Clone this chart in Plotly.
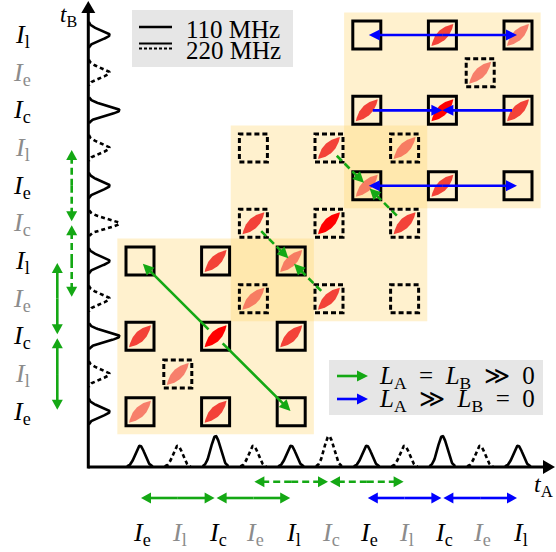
import numpy as np
import plotly.graph_objects as go

# ---- pulse time bins (identical sequence on both the t_A and t_B axes) ----
SLOT_LABELS = ["e", "l", "c", "e", "l", "c", "e", "l", "c", "e", "l"]
SLOT_RATE_MHZ = [110, 220, 110, 220, 110, 220, 110, 220, 110, 220, 110]
PEAK_HEIGHT = [0.56, 0.56, 0.82, 0.56, 0.56, 0.82, 0.56, 0.56, 0.82, 0.56, 0.56]

# ---- coincidence cells: slot on t_A, slot on t_B, correlation level (0 = none) ----
CELL_A = [0, 2, 4, 0, 2, 4, 0, 2, 4, 1, 3, 5, 7, 3, 5, 7, 3, 5, 7,
          6, 8, 10, 6, 8, 10, 6, 8, 10, 9]
CELL_B = [0, 0, 0, 2, 2, 2, 4, 4, 4, 1, 3, 3, 3, 5, 5, 5, 7, 7, 7,
          6, 6, 6, 8, 8, 8, 10, 10, 10, 9]
CELL_LEVEL = [1, 2, 0, 2, 3, 2, 0, 2, 1, 1, 1, 2, 0, 2, 3, 2, 0, 2, 1,
              1, 2, 0, 2, 3, 2, 0, 2, 1, 1]

# shaded blocks: first / last slot covered on both axes
BLOCK_LO = [0, 3, 6]
BLOCK_HI = [4, 7, 10]

# arrows inside the grid: (from A, from B, to A, to B, start gap px, tip gap px)
GREEN_SOLID = [(2, 2, 0, 4, 10, 4), (2, 2, 4, 0, 10, 1)]
GREEN_DASHED = [(5, 7, 6, 6, 11, 4), (7, 5, 6, 6, 11, 4),
                (3, 5, 4, 4, 11, 4), (5, 3, 4, 4, 11, 4)]
BLUE = [(8, 10, 6, 10, 0, 2), (8, 10, 10, 10, 0, 1),
        (6, 8, 8, 8, 6, 0), (10, 8, 8, 8, 6, 0),
        (8, 6, 6, 6, 0, 2), (8, 6, 10, 6, 0, 1)]

# double arrows beside the axes: (slot from, slot to)
AXIS_SOLID_GREEN = [(0, 2), (2, 4)]
AXIS_DASHED_GREEN = [(3, 5), (5, 7)]
AXIS_BLUE = [(6, 8), (8, 10)]

# ---- geometry (pixels) ----
W, H = 556, 552
X0PX, Y0PX = 140.0, 411.7      # pixel position of slot 0
SX, SY = 37.8, 37.67           # pixels per slot
ORIGIN_PX = (88.3, 467.0)

GREEN = "#14a814"
BLUE_C = "#0000ff"
GRAY_TXT = "#8c8c8c"
LEVEL_COLOR = {1: "rgba(244,78,66,0.70)", 2: "rgb(243,66,56)", 3: "rgb(255,0,0)"}
FONT = "Liberation Serif"


def d2p(x, y):
    return X0PX + SX * x, Y0PX - SY * y


def p2d(px, py):
    return (px - X0PX) / SX, (Y0PX - py) / SY


shapes = []
annotations = []
traces = []


def line_px(p0, p1, color, width, dash=None, layer="above"):
    a = p2d(*p0)
    b = p2d(*p1)
    ln = dict(color=color, width=width)
    if dash:
        ln["dash"] = dash
    shapes.append(dict(type="line", xref="x", yref="y", x0=a[0], y0=a[1],
                       x1=b[0], y1=b[1], line=ln, layer=layer))


def poly_px(pts, color, layer="above"):
    d = [p2d(*p) for p in pts]
    path = "M " + " L ".join(f"{x:.5f},{y:.5f}" for x, y in d) + " Z"
    shapes.append(dict(type="path", xref="x", yref="y", path=path,
                       fillcolor=color, line=dict(width=0), layer=layer))


def arrow_px(p0, p1, color, width=2.6, dash=None, head_len=11.0, head_w=11.0):
    p0 = np.array(p0, float)
    p1 = np.array(p1, float)
    d = p1 - p0
    d /= np.hypot(*d)
    n = np.array([-d[1], d[0]])
    base = p1 - d * head_len
    line_px(tuple(p0), tuple(base + d * 1.0), color, width, dash)
    poly_px([tuple(p1), tuple(base + n * head_w / 2), tuple(base - n * head_w / 2)], color)


def grid_arrow(a0, b0, a1, b1, gap0, gap1, color, dash=None):
    p0 = np.array(d2p(a0, b0))
    p1 = np.array(d2p(a1, b1))
    d = (p1 - p0) / np.hypot(*(p1 - p0))
    arrow_px(p0 + d * gap0, p1 - d * gap1, color, dash=dash)


# ---- shaded blocks ----
PAD = 0.6
for lo, hi in zip(BLOCK_LO, BLOCK_HI):
    shapes.append(dict(type="rect", xref="x", yref="y", x0=lo - PAD, x1=hi + PAD,
                       y0=lo - PAD, y1=hi + PAD, fillcolor="rgba(255,216,118,0.36)",
                       line=dict(width=0), layer="below"))

# ---- detection cells ----
HALF = 14.0  # px
for a, b in zip(CELL_A, CELL_B):
    cx, cy = d2p(a, b)
    x0, y0 = p2d(cx - HALF, cy + HALF)
    x1, y1 = p2d(cx + HALF, cy - HALF)
    solid = SLOT_RATE_MHZ[a] == 110 and SLOT_RATE_MHZ[b] == 110
    shapes.append(dict(type="rect", xref="x", yref="y", x0=x0, x1=x1, y0=y0, y1=y1,
                       line=dict(color="black", width=3,
                                 dash=None if solid else "5px,3px"),
                       fillcolor="rgba(0,0,0,0)", layer="below"))

# ---- correlation lenses ----
L_PX, W_PX = 31.0, 10.5
t = np.linspace(-1, 1, 41)
u = np.concatenate([t, t[::-1]]) * L_PX / 2
v = np.concatenate([(1 - t ** 2), -(1 - t[::-1] ** 2)]) * W_PX / 2
ux, uy = np.cos(np.pi / 4), -np.sin(np.pi / 4)   # pixel y points down
for a, b, lev in zip(CELL_A, CELL_B, CELL_LEVEL):
    if lev == 0:
        continue
    cx, cy = d2p(a, b)
    px = cx + u * ux - v * uy
    py = cy + u * uy + v * ux
    xs, ys = p2d(px, py)
    traces.append(go.Scatter(x=xs, y=ys, mode="lines", fill="toself",
                             fillcolor=LEVEL_COLOR[lev], line=dict(width=0),
                             hoverinfo="skip", showlegend=False))

# ---- pulses along the axes ----
SIG = 4.8
for i, (rate, h) in enumerate(zip(SLOT_RATE_MHZ, PEAK_HEIGHT)):
    dash = None if rate == 110 else "4px,3px"
    s = np.linspace(-13, 13, 61)
    g = np.exp(-s ** 2 / (2 * SIG ** 2))
    # t_A axis
    cx, _ = d2p(i, 0)
    hx = h * SY
    xs, ys = p2d(cx + s, ORIGIN_PX[1] - hx * g)
    traces.append(go.Scatter(x=xs, y=ys, mode="lines",
                             line=dict(color="black", width=2.6, dash=dash),
                             hoverinfo="skip", showlegend=False))
    # t_B axis
    _, cy = d2p(0, i)
    hy = h * SX
    xs, ys = p2d(ORIGIN_PX[0] + hy * g, cy + s)
    traces.append(go.Scatter(x=xs, y=ys, mode="lines",
                             line=dict(color="black", width=2.6, dash=dash),
                             hoverinfo="skip", showlegend=False))

# ---- axes ----
arrow_px(ORIGIN_PX, (555, ORIGIN_PX[1]), "black", width=3, head_len=12, head_w=14)
arrow_px((ORIGIN_PX[0], ORIGIN_PX[1] + 1.5), (ORIGIN_PX[0], 1), "black", width=3,
         head_len=12, head_w=14)

# ---- arrows inside the grid ----
for a0, b0, a1, b1, g0, g1 in GREEN_SOLID:
    grid_arrow(a0, b0, a1, b1, g0, g1, GREEN)
for a0, b0, a1, b1, g0, g1 in GREEN_DASHED:
    grid_arrow(a0, b0, a1, b1, g0, g1, GREEN, dash="7px,4px")
for a0, b0, a1, b1, g0, g1 in BLUE:
    grid_arrow(a0, b0, a1, b1, g0, g1, BLUE_C)


def double_arrow_px(p0, p1, color, dash=None):
    p0 = np.array(p0, float)
    p1 = np.array(p1, float)
    mid = (p0 + p1) / 2
    arrow_px(mid, p1, color, dash=dash, head_len=10, head_w=11)
    arrow_px(mid, p0, color, dash=dash, head_len=10, head_w=11)


# beside the t_B axis
for s0, s1 in AXIS_SOLID_GREEN:
    double_arrow_px((57.3, d2p(0, s0)[1] - 2), (57.3, d2p(0, s1)[1] + 2), GREEN)
for s0, s1 in AXIS_DASHED_GREEN:
    double_arrow_px((71.7, d2p(0, s0)[1] - 2), (71.7, d2p(0, s1)[1] + 2), GREEN, "7px,4px")
# beside the t_A axis
for s0, s1 in AXIS_SOLID_GREEN:
    double_arrow_px((d2p(s0, 0)[0] + 1, 498), (d2p(s1, 0)[0] - 1, 498), GREEN)
for s0, s1 in AXIS_DASHED_GREEN:
    double_arrow_px((d2p(s0, 0)[0] + 1, 481.7), (d2p(s1, 0)[0] - 1, 481.7), GREEN, "7px,4px")
for s0, s1 in AXIS_BLUE:
    double_arrow_px((d2p(s0, 0)[0] + 1, 498), (d2p(s1, 0)[0] - 1, 498), BLUE_C)


# ---- text ----
def text_px(px, py, txt, size=24, color="black", xanchor="center", yanchor="middle"):
    x, y = p2d(px, py)
    annotations.append(dict(x=x, y=y, xref="x", yref="y", text=txt, showarrow=False,
                            xanchor=xanchor, yanchor=yanchor,
                            font=dict(family=FONT, size=size, color=color)))


for i, (lab, rate) in enumerate(zip(SLOT_LABELS, SLOT_RATE_MHZ)):
    col = "black" if rate == 110 else GRAY_TXT
    txt = f"<i>I</i><sub>{lab}</sub>"
    text_px(d2p(i, 0)[0] + 2, 534, txt, size=26, color=col)
    text_px(22, d2p(0, i)[1] + 1, txt, size=26, color=col)

text_px(68, 0, "<i>t</i><sub>B</sub>", size=23, yanchor="top")
text_px(543, 486, "<i>t</i><sub>A</sub>", size=24)

# legend: pulse rates
shapes.append(dict(type="rect", xref="x", yref="y",
                   x0=p2d(132, 0)[0], x1=p2d(293, 0)[0],
                   y0=p2d(0, 67)[1], y1=p2d(0, 10)[1],
                   fillcolor="#e6e6e6", line=dict(width=0), layer="below"))
line_px((139, 27), (172, 27), "black", 2.6)
line_px((139, 43.5), (172, 43.5), "black", 2.2)
line_px((139, 48.5), (172, 48.5), "black", 2.2, dash="3px,2px")
text_px(184, 29, "110 MHz", size=25, xanchor="left")
text_px(184, 50, "220 MHz", size=25, xanchor="left")

# legend: loss regimes
shapes.append(dict(type="rect", xref="x", yref="y",
                   x0=p2d(329, 0)[0], x1=p2d(543, 0)[0],
                   y0=p2d(0, 415)[1], y1=p2d(0, 360)[1],
                   fillcolor="#e6e6e6", line=dict(width=0), layer="below"))
arrow_px((337, 376), (368, 376), GREEN, head_len=11, head_w=11)
arrow_px((337, 399), (368, 399), BLUE_C, head_len=11, head_w=11)
text_px(377, 377, "<i>L</i><sub>A</sub>&nbsp; = &nbsp;<i>L</i><sub>B</sub>&nbsp; ≫ &nbsp;0",
        size=25, xanchor="left")
text_px(377, 400, "<i>L</i><sub>A</sub>&nbsp; ≫ &nbsp;<i>L</i><sub>B</sub>&nbsp; = &nbsp;0",
        size=25, xanchor="left")

fig = go.Figure(data=traces)
xr = [p2d(0, 0)[0], p2d(W, 0)[0]]
yr = [p2d(0, H)[1], p2d(0, 0)[1]]
fig.update_layout(
    width=W, height=H, margin=dict(l=0, r=0, t=0, b=0),
    paper_bgcolor="white", plot_bgcolor="white",
    xaxis=dict(range=xr, visible=False, fixedrange=True),
    yaxis=dict(range=yr, visible=False, fixedrange=True),
    shapes=shapes, annotations=annotations, showlegend=False,
)
fig.write_html("out.html")
